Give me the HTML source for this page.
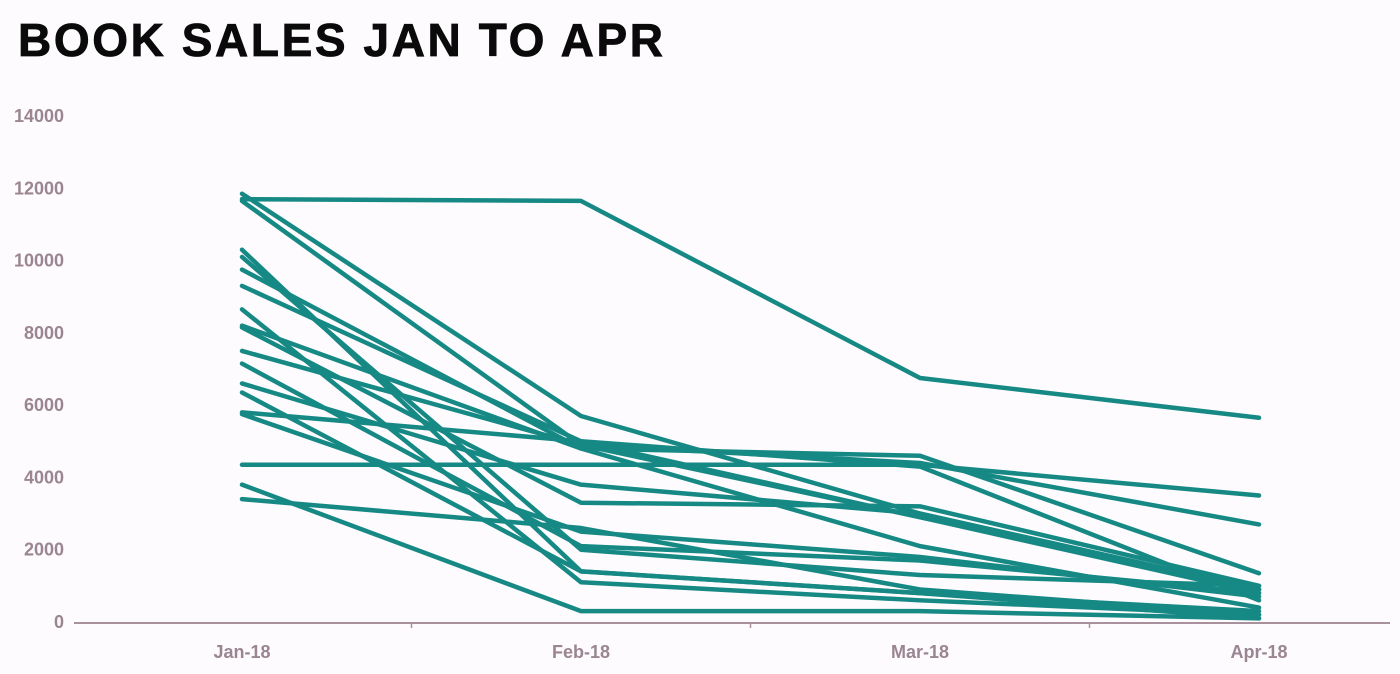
<!DOCTYPE html>
<html><head><meta charset="utf-8"><style>
body{margin:0;background:#fdfbfd;}
svg{display:block}
.t{font-family:"Liberation Sans",sans-serif;font-weight:bold;fill:#9a8590;font-size:18px}
</style></head><body>
<svg width="1400" height="674">
<text x="18" y="56" style="font-family:'Liberation Sans',sans-serif;font-weight:bold;font-size:46px;letter-spacing:2.6px;fill:#0a0a0a;stroke:#0a0a0a;stroke-width:0.8">BOOK SALES JAN TO APR</text>
<g id="yaxis"></g>
<g id="xaxis"></g>
<g id="lines"></g>
</svg>
<script>
const categories=["Jan-18","Feb-18","Mar-18","Apr-18"];
const yTicks=[0,2000,4000,6000,8000,10000,12000,14000];
const s1=[11700,11650,6750,5650];
const s2=[11850,5700,3000,900];
const s3=[11650,4900,2900,800];
const s4=[10300,1400,800,300];
const s5=[10100,2000,1300,1000];
const s6=[9750,4800,4600,1350];
const s7=[9300,5000,2900,900];
const s8=[8650,1100,600,200];
const s9=[8200,4800,2100,400];
const s10=[8150,3300,3200,1000];
const s11=[7500,4900,4400,2700];
const s12=[7150,2100,1700,800];
const s13=[6600,3800,3000,900];
const s14=[6350,1400,800,100];
const s15=[5800,5000,4300,600];
const s16=[5750,2500,1800,700];
const s17=[4350,4350,4350,3500];
const s18=[3800,300,300,100];
const s19=[3400,2600,900,200];
const series=[s1,s2,s3,s4,s5,s6,s7,s8,s9,s10,s11,s12,s13,s14,s15,s16,s17,s18,s19];
const NS="http://www.w3.org/2000/svg";
const y0=622,yTop=116,yMax=14000;
const yS=v=>y0-(v/yMax)*(y0-yTop);
const xS=i=>242+i*339;
const ya=document.getElementById('yaxis');
yTicks.forEach(v=>{const t=document.createElementNS(NS,'text');


t.setAttribute('class','t');t.setAttribute('x',64);t.setAttribute('y',yS(v)+6);t.setAttribute('text-anchor','end');t.textContent=v;ya.appendChild(t);});
const xa=document.getElementById('xaxis');
const ax=document.createElementNS(NS,'line');


ax.setAttribute('x1',74);ax.setAttribute('x2',1390);ax.setAttribute('y1',y0+1);ax.setAttribute('y2',y0+1);ax.setAttribute('stroke','#a8909c');ax.setAttribute('stroke-width',2);xa.appendChild(ax);
[0.5,1.5,2.5].forEach(b=>{const l=document.createElementNS(NS,'line');


l.setAttribute('x1',xS(b));l.setAttribute('x2',xS(b));l.setAttribute('y1',y0);l.setAttribute('y2',y0+6);l.setAttribute('stroke','#a8909c');l.setAttribute('stroke-width',1.5);xa.appendChild(l);});
categories.forEach((c,i)=>{const t=document.createElementNS(NS,'text');


t.setAttribute('class','t');t.setAttribute('x',xS(i));t.setAttribute('y',658);t.setAttribute('text-anchor','middle');t.textContent=c;xa.appendChild(t);});
const lg=document.getElementById('lines');
series.forEach((s,k)=>{const p=document.createElementNS(NS,'polyline');


p.setAttribute('points',s.map((v,i)=>xS(i)+','+yS(v)).join(' '));
p.setAttribute('fill','none');p.setAttribute('stroke','#168985');p.setAttribute('stroke-width',4.5);p.setAttribute('stroke-linecap','round');p.setAttribute('stroke-linejoin','round');lg.appendChild(p);});
</script>
</body></html>
